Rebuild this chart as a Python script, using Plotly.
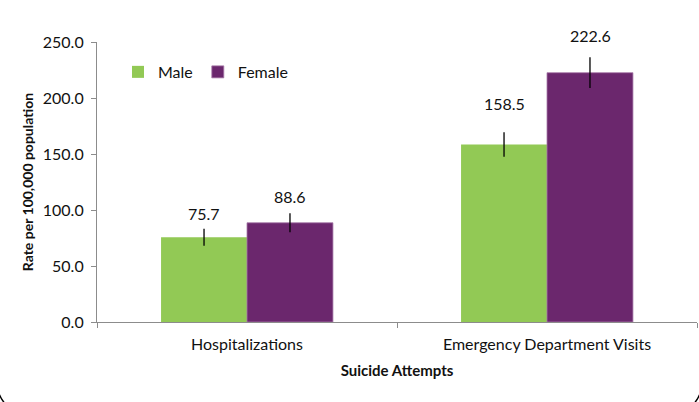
import plotly.graph_objects as go

categories = ["Hospitalizations", "Emergency Department Visits"]
male = [75.7, 158.5]
female = [88.6, 222.6]
male_err = [7.6, 11.0]
female_err = [8.5, 13.7]
series_names = ["Male", "Female"]
y_ticks = [0, 50, 100, 150, 200, 250]
y_tick_labels = ["0.0", "50.0", "100.0", "150.0", "200.0", "250.0"]

GREEN = "#92C955"
PURPLE = "#6B276D"
FONT = "Lato"

fig = go.Figure()
fig.add_trace(go.Bar(
    x=categories, y=male, name=series_names[0],
    marker=dict(color=GREEN, line=dict(width=0)),
    error_y=dict(type="data", array=male_err, color="black", thickness=1.3, width=0),
))
fig.add_trace(go.Bar(
    x=categories, y=female, name=series_names[1],
    marker=dict(color=PURPLE, line=dict(color="#A77AA8", width=0.8)),
    error_y=dict(type="data", array=female_err, color="black", thickness=1.3, width=0),
))

label_shift_male = [24, 41]
label_shift_female = [26, 37]
for i, c in enumerate(categories):
    fig.add_annotation(x=c, y=male[i], text=f"{male[i]:.1f}", showarrow=False,
                       xshift=-43, yshift=label_shift_male[i], yanchor="middle",
                       font=dict(family=FONT, size=16, color="#111111"))
    fig.add_annotation(x=c, y=female[i], text=f"{female[i]:.1f}", showarrow=False,
                       xshift=43, yshift=label_shift_female[i], yanchor="middle",
                       font=dict(family=FONT, size=16, color="#111111"))

# rounded chart frame (mostly off-canvas)
W, H = 699, 402
L, R, T, B = 97, 2, 42, 80
pw, ph = W - L - R, H - T - B
def px(x):
    return (x - L) / pw
def py(y):
    return (H - B - y) / ph
x0, x1, y1, r = -4, 703, 414.6, 40
path = (f"M {px(x0)},{py(y1 - r)} "
        f"Q {px(x0)},{py(y1)} {px(x0 + r)},{py(y1)} "
        f"L {px(x1 - r)},{py(y1)} Q {px(x1)},{py(y1)} {px(x1)},{py(y1 - r)}")
fig.add_shape(type="path", path=path, xref="paper", yref="paper",
              line=dict(color="#000000", width=1.3))

fig.update_layout(
    width=W, height=H,
    margin=dict(l=L, r=R, t=T, b=B),
    paper_bgcolor="white", plot_bgcolor="white",
    barmode="group", bargap=0.427, bargroupgap=0,
    font=dict(family=FONT, size=16, color="#111111"),
    showlegend=True,
    legend=dict(orientation="h", x=0.035, y=0.893, xanchor="left", yanchor="middle",
                font=dict(family=FONT, size=16, color="#111111"),
                bgcolor="rgba(0,0,0,0)", itemwidth=30, tracegroupgap=0),
    xaxis=dict(
        showline=True, linecolor="#8c8c8c", linewidth=1.2,
        ticks="outside", tickson="boundaries", ticklen=5, tickcolor="#8c8c8c",
        showgrid=False, tickfont=dict(family=FONT, size=16), ticklabelstandoff=8,
        title=dict(text="<b>Suicide Attempts</b>", font=dict(family=FONT, size=15), standoff=13),
    ),
    yaxis=dict(
        range=[0, 250], tickvals=y_ticks, ticktext=y_tick_labels,
        showline=True, linecolor="#8c8c8c", linewidth=1.2,
        ticks="outside", ticklen=5, tickcolor="#8c8c8c", ticklabelstandoff=4,
        showgrid=False, zeroline=False, tickfont=dict(family=FONT, size=16),
        title=dict(text="<b>Rate per 100,000 population</b>", font=dict(family=FONT, size=14), standoff=5),
    ),
)

fig.write_html("out.html", config={"displayModeBar": False},
               post_script="document.body.style.margin='0';")
